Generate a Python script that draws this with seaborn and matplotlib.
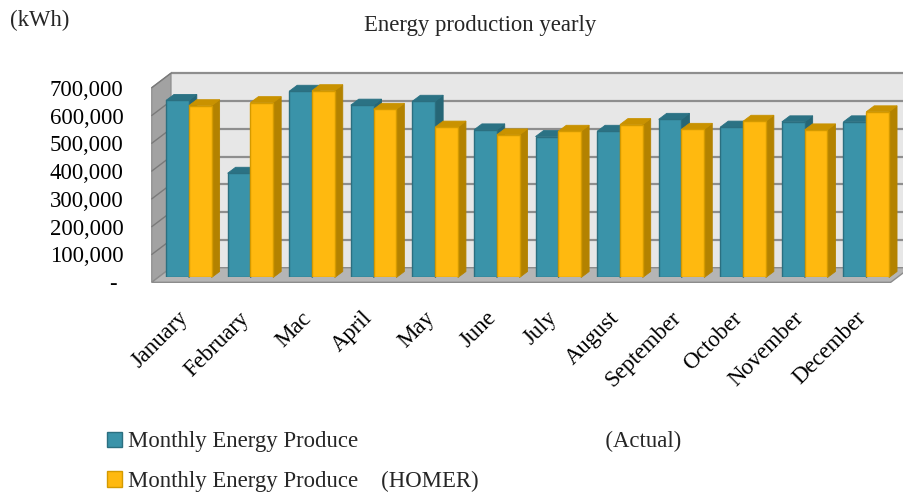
import numpy as np
import pandas as pd
import matplotlib
matplotlib.use("Agg")
import matplotlib.pyplot as plt
from matplotlib.patches import Polygon
from matplotlib.colors import to_rgba
from matplotlib.ticker import FuncFormatter
from matplotlib.transforms import ScaledTranslation
import seaborn as sns

# ---------------- data ----------------
months = ["January", "February", "Mac", "April", "May", "June", "July",
          "August", "September", "October", "November", "December"]
actual = [637000, 375000, 670000, 620000, 634000, 531000, 507000,
          526000, 569000, 541000, 560000, 560000]
homer = [618000, 629000, 672000, 605000, 541000, 513000, 526000,
         550000, 533000, 562000, 531000, 596000]
series_labels = ["Monthly Energy Produce" + " " * 43 + "(Actual)",
                 "Monthly Energy Produce    (HOMER)"]
y_ticks = [0, 100000, 200000, 300000, 400000, 500000, 600000, 700000]
title = "Energy production yearly"
unit_label = "(kWh)"

# ---------------- style ----------------
sns.set_theme(style="white")
plt.rcParams["font.family"] = ["Liberation Serif", "DejaVu Serif"]
FS = 16.4

front_cols = ["#3a93a9", "#ffb90f"]
edge_cols = ["#2b6f80", "#d49a00"]
top_cols = ["#2b7284", "#c99200"]
side_cols = ["#266676", "#b38200"]

df = pd.DataFrame({
    "Month": months * 2,
    "Energy": actual + homer,
    "Series": [series_labels[0]] * len(months) + [series_labels[1]] * len(months),
})

fig = plt.figure(figsize=(9.04, 4.95), dpi=100)
ax = fig.add_axes([0.1748, 0.4394, 0.8175, 0.3931])
sns.barplot(data=df, x="Month", y="Energy", hue="Series", palette=front_cols,
            width=0.74, saturation=1, linewidth=1, ax=ax, legend=True)
ax.set_xlim(-0.5, len(months) - 0.5)
ax.set_ylim(y_ticks[0], y_ticks[-1])
ax.set_facecolor("none")
for s in ax.spines.values():
    s.set_visible(False)
ax.set_xlabel("")
ax.set_ylabel("")
ax.grid(False)


def px(dxp, dyp):
    inv = ax.transData.inverted()
    p0 = ax.transData.transform((0, 0))
    p1 = inv.transform(p0 + np.array([dxp, dyp]))
    return p1[0], p1[1]


bdx, bdy = px(8, 6)        # bar depth
fdx, fdy = px(-6.3, -4.8)  # front plane
kdx, kdy = px(13, 9.8)     # back plane

x0, x1 = ax.get_xlim()
y0, y1 = ax.get_ylim()

# back wall
ax.add_patch(Polygon([(x0 + kdx, y0 + kdy), (x1 + kdx, y0 + kdy), (x1 + kdx, y1 + kdy),
                      (x0 + kdx, y1 + kdy)], closed=True, facecolor="#e7e7e7",
                     edgecolor="none", zorder=0.5, clip_on=False))
for v in y_ticks[1:]:
    ax.plot([x0 + kdx, x1 + kdx], [v + kdy, v + kdy], color="#8e8e8e", lw=1.6,
            zorder=0.6, clip_on=False, solid_capstyle="butt")
# left wall
ax.add_patch(Polygon([(x0 + fdx, y0 + fdy), (x0 + fdx, y1 + fdy), (x0 + kdx, y1 + kdy),
                      (x0 + kdx, y0 + kdy)], closed=True, facecolor="#a2a2a2",
                     edgecolor="#8a8a8a", lw=0.8, zorder=0.7, clip_on=False))
for v in y_ticks[1:]:
    ax.plot([x0 + fdx, x0 + kdx], [v + fdy, v + kdy], color="#7a7a7a", lw=1.0,
            zorder=0.8, clip_on=False)
# floor
ax.add_patch(Polygon([(x0 + fdx, y0 + fdy), (x1 + fdx, y0 + fdy), (x1 + kdx, y0 + kdy),
                      (x0 + kdx, y0 + kdy)], closed=True, facecolor="#b5b5b5",
                     edgecolor="#8c8c8c", lw=1.0, zorder=0.9, clip_on=False))

# 3-D faces for the bars
bars = [p for p in ax.patches if hasattr(p, "get_width") and p.get_height() > 1000]
bars = sorted(bars, key=lambda b: b.get_x())
for i, b in enumerate(bars):
    fc = to_rgba(b.get_facecolor())
    k = 0 if np.allclose(fc[:3], to_rgba(front_cols[0])[:3], atol=0.02) else 1
    bx0, by0 = b.get_x(), b.get_y()
    bx1, by1 = bx0 + b.get_width(), by0 + b.get_height()
    z = 2 + i * 0.01
    b.set_edgecolor(edge_cols[k])
    b.set_linewidth(1.0)
    b.set_zorder(z + 0.005)
    ax.add_patch(Polygon([(bx1, by0), (bx1, by1), (bx1 + bdx, by1 + bdy), (bx1 + bdx, by0 + bdy)],
                         closed=True, facecolor=side_cols[k], edgecolor=side_cols[k],
                         lw=0.6, zorder=z, clip_on=False))
    ax.add_patch(Polygon([(bx0, by1), (bx1, by1), (bx1 + bdx, by1 + bdy), (bx0 + bdx, by1 + bdy)],
                         closed=True, facecolor=top_cols[k], edgecolor=top_cols[k],
                         lw=0.6, zorder=z, clip_on=False))

# ticks
ax.set_yticks(y_ticks)
ax.yaxis.set_major_formatter(FuncFormatter(lambda v, p: "- " if v == 0 else f"{v:,.0f}"))
ax.tick_params(axis="y", length=0, pad=25, labelsize=FS, labelcolor="black")
off = ScaledTranslation(0, -4.8 / 100, fig.dpi_scale_trans)
for lbl in ax.get_yticklabels():
    lbl.set_transform(lbl.get_transform() + off)

ax.set_xticks(range(len(months)))
ax.set_xticklabels(months, rotation=45, ha="right", va="center", rotation_mode="anchor")
ax.tick_params(axis="x", length=0, pad=22, labelsize=FS, labelcolor="black")
xoff = ScaledTranslation(-4 / 100, -7 / 100, fig.dpi_scale_trans)
for lbl in ax.get_xticklabels():
    lbl.set_transform(lbl.get_transform() + xoff)

# texts
fig.text(10 / 904, 1 - 20 / 495, unit_label, ha="left", va="center", fontsize=FS)
fig.text(480 / 904, 1 - 25 / 495, title, ha="center", va="center", fontsize=FS)

# legend
handles, labels = ax.get_legend_handles_labels()
if ax.get_legend() is not None:
    ax.get_legend().remove()
for h, ec in zip(handles, edge_cols):
    h.set_edgecolor(ec)
    h.set_linewidth(1.0)
fig.legend(handles, labels, loc="upper left", bbox_to_anchor=(107 / 904, 1 - 431 / 495),
           frameon=False, fontsize=FS, handlelength=0.66, handleheight=0.66,
           handletextpad=0.25, labelspacing=0.82, borderpad=0, borderaxespad=0)

fig.savefig("out.png", dpi=100)
